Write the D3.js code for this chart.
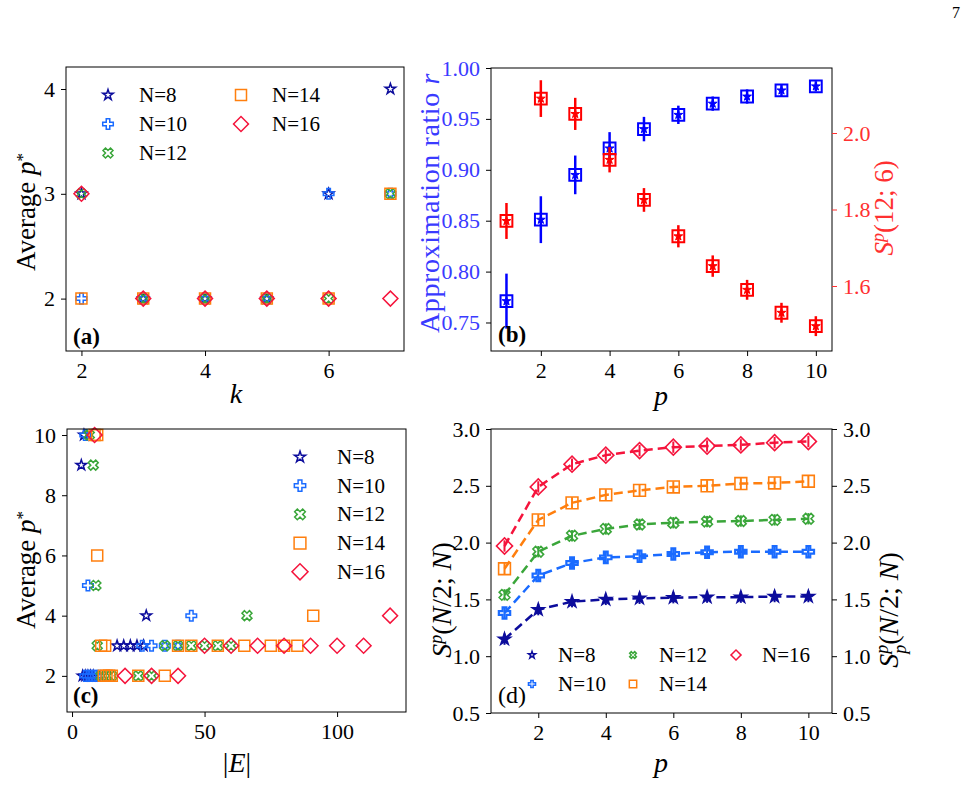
<!DOCTYPE html>
<html>
<head>
<meta charset="utf-8">
<script src="https://cdn.jsdelivr.net/npm/d3@7"></script>
<style>
body { margin: 0; background: #fff; }
</style>
</head>
<body>
<div id="chart"></div>
<script>
var serif = "'Liberation Serif', 'DejaVu Serif', serif";

// series shared by (a), (c), (d)
var nList = [8, 10, 12, 14, 16];
var nColors = ["#0c0c9c", "#1a6bff", "#3aa63a", "#ff7f0e", "#f5143c"];
var nShapes = ["star", "plus", "x", "square", "diamond"];

// (a) average p* against k
var kVals = [2, 3, 4, 5, 6, 7];
var aN8 = [3, 2, 2, 2, 3, 4];
var aN10 = [2, 2, 2, 2, 3, 3];
var aN12 = [3, 2, 2, 2, 2, 3];
var aN14 = [2, 2, 2, 2, 2, 3];
var aN16 = [3, 2, 2, 2, 2, 2];

// (b) approximation ratio and S^p(12;6) against p
var pVals = [1, 2, 3, 4, 5, 6, 7, 8, 9, 10];
var ratioR = [0.771, 0.851, 0.895, 0.921, 0.940, 0.954, 0.965, 0.972, 0.978, 0.982];
var ratioErr = [0.027, 0.023, 0.019, 0.016, 0.012, 0.009, 0.007, 0.007, 0.006, 0.005];
var entS = [1.77, 2.09, 2.05, 1.93, 1.825, 1.73, 1.652, 1.59, 1.53, 1.495];
var entErr = [0.047, 0.048, 0.042, 0.033, 0.031, 0.029, 0.028, 0.026, 0.026, 0.026];

// (c) average p* against |E|
var cE8 = [4.5, 3.5, 4, 5, 6, 7, 8, 17, 19.5, 22, 24.5, 27, 28];
var cP8 = [10, 9, 2, 2, 2, 2, 2, 3, 3, 3, 3, 3, 4];
var cE10 = [5, 6, 5, 6, 7, 8, 9, 10, 26.5, 30, 35, 40, 45];
var cP10 = [10, 5, 2, 2, 2, 2, 2, 2, 3, 3, 3, 3, 4];
var cE12 = [6.5, 8, 9, 9.5, 11, 13, 15, 25, 30, 35, 40, 45, 50, 55, 60, 66];
var cP12 = [10, 9, 5, 3, 2, 2, 2, 2, 2, 3, 3, 3, 3, 3, 3, 4];
var cE14 = [8.5, 9.5, 9.5, 11, 12.5, 12, 13, 14, 15, 25, 35, 40, 45, 55, 65, 75, 80, 85, 91];
var cP14 = [10, 10, 6, 3, 3, 2, 2, 2, 2, 2, 2, 3, 3, 3, 3, 3, 3, 3, 4];
var cE16 = [8.5, 20, 30, 40, 50, 60, 70, 80, 90, 100, 110, 120];
var cP16 = [10, 2, 2, 2, 3, 3, 3, 3, 3, 3, 3, 4];

// (d) S^p(N/2;N) against p
var dN8 = [1.15, 1.41, 1.48, 1.50, 1.51, 1.515, 1.52, 1.52, 1.525, 1.525];
var dN10 = [1.38, 1.71, 1.82, 1.87, 1.88, 1.90, 1.915, 1.92, 1.92, 1.92];
var dN12 = [1.54, 1.92, 2.06, 2.12, 2.16, 2.175, 2.185, 2.19, 2.20, 2.21];
var dN14 = [1.77, 2.20, 2.35, 2.42, 2.46, 2.49, 2.50, 2.52, 2.525, 2.54];
var dN16 = [1.97, 2.49, 2.69, 2.77, 2.81, 2.84, 2.85, 2.86, 2.88, 2.89];
var dErr = [0.05, 0.05, 0.05, 0.05, 0.05, 0.05, 0.05, 0.05, 0.05, 0.05];

var aSeries = [aN8, aN10, aN12, aN14, aN16];
var cSeriesE = [cE8, cE10, cE12, cE14, cE16];
var cSeriesP = [cP8, cP10, cP12, cP14, cP16];
var dSeries = [dN8, dN10, dN12, dN14, dN16];

var blueAxis = "#3a3aff";
var redAxis = "#ff3030";

var svg = d3.select("#chart").append("svg")
    .attr("width", 969)
    .attr("height", 810)
    .style("font-family", serif);

var baseArea = { star: 34, plus: 62, x: 62, square: 121, diamond: 112 };

function symbolPath(shape, area) {
    var type = d3.symbolSquare;
    if (shape == "star") type = d3.symbolStar;
    if (shape == "plus" || shape == "x") type = d3.symbolCross;
    return d3.symbol().type(type).size(area)();
}

function drawMarkers(xs, ys, xScale, yScale, shape, color, scale, fill, sw) {
    var rot = (shape == "x" || shape == "diamond") ? 45 : 0;
    var pts = xs.map(function (v, i) { return [v, ys[i]]; });
    svg.append("g").selectAll("path")
        .data(pts)
        .enter().append("path")
        .attr("d", symbolPath(shape, baseArea[shape] * scale))
        .attr("transform", function (d) {
            return "translate(" + xScale(d[0]) + "," + yScale(d[1]) + ") rotate(" + rot + ")";
        })
        .attr("fill", fill || "none")
        .attr("stroke", color)
        .attr("stroke-width", sw || 1.5);
}

function frame(box) {
    svg.append("rect")
        .attr("x", box.x0).attr("y", box.y0)
        .attr("width", box.x1 - box.x0).attr("height", box.y1 - box.y0)
        .attr("fill", "none").attr("stroke", "#000").attr("stroke-width", 1);
}

function addAxis(axis, tx, ty, tickColor, textColor) {
    var g = svg.append("g")
        .attr("transform", "translate(" + tx + "," + ty + ")")
        .call(axis.tickSize(5).tickSizeOuter(0).tickPadding(6));
    g.attr("font-family", null).attr("font-size", null);
    g.select(".domain").remove();
    g.selectAll("line").attr("stroke", tickColor || "#000");
    g.selectAll("text")
        .attr("fill", textColor || "#000")
        .style("font-family", serif)
        .style("font-size", "22px");
    return g;
}

// parts: {t, i (italic), dx, dy, fs, b}
function addLabel(x, y, rot, parts, size, color, anchor) {
    var t = svg.append("text")
        .attr("transform", "translate(" + x + "," + y + ") rotate(" + rot + ")")
        .attr("text-anchor", anchor || "middle")
        .style("font-family", serif)
        .style("font-size", size + "px")
        .attr("fill", color || "#000");
    parts.forEach(function (p) {
        if (typeof p == "string") p = { t: p };
        var s = t.append("tspan").text(p.t);
        if (p.i) s.style("font-style", "italic");
        if (p.b) s.style("font-weight", "bold");
        if (p.dx) s.attr("dx", p.dx);
        if (p.dy) s.attr("dy", p.dy);
        if (p.fs) s.style("font-size", p.fs + "px");
    });
    return t;
}

// ---------- (a) ----------
var boxA = { x0: 66, x1: 404, y0: 67, y1: 351 };
var xA = d3.scaleLinear().domain([1.75, 7.22]).range([boxA.x0, boxA.x1]);
var yA = d3.scaleLinear().domain([1.5, 4.21]).range([boxA.y1, boxA.y0]);

aSeries.forEach(function (ys, i) {
    drawMarkers(kVals, ys, xA, yA, nShapes[i], nColors[i], 1, "none", 1.5);
});
frame(boxA);
addAxis(d3.axisBottom(xA).tickValues([2, 4, 6]).tickFormat(d3.format("d")), 0, boxA.y1);
addAxis(d3.axisLeft(yA).tickValues([2, 3, 4]).tickFormat(d3.format("d")), boxA.x0, 0);

var legA = [[108, 95], [108, 124], [108, 153], [241, 95], [241, 124]];
nList.forEach(function (n, i) {
    var pos = legA[i];
    drawMarkers([0], [0], function () { return pos[0]; }, function () { return pos[1]; },
        nShapes[i], nColors[i], 1, "none", 1.5);
    addLabel(pos[0] + 31, pos[1] + 7, 0, ["N=" + n], 21, "#000", "start");
});
addLabel(73, 344, 0, [{ t: "(a)", b: true }], 23, "#000", "start");
addLabel(35, 212, -90, ["Average ", { t: "p", i: true }, { t: "*", dy: -7, fs: 17 }], 27);
addLabel(236, 403, 0, [{ t: "k", i: true }], 28);

// ---------- (b) ----------
var boxB = { x0: 491, x1: 832, y0: 68, y1: 351 };
var xB = d3.scaleLinear().domain([0.55, 10.47]).range([boxB.x0, boxB.x1]);
var yB = d3.scaleLinear().domain([0.722, 1.0]).range([boxB.y1, boxB.y0]);
var yB2 = d3.scaleLinear().domain([1.43, 2.17]).range([boxB.y1, boxB.y0]);

function drawErrSeries(vals, errs, yScale, color) {
    var g = svg.append("g");
    g.selectAll("line")
        .data(vals)
        .enter().append("line")
        .attr("x1", function (d, i) { return xB(pVals[i]); })
        .attr("x2", function (d, i) { return xB(pVals[i]); })
        .attr("y1", function (d, i) { return yScale(d - errs[i]); })
        .attr("y2", function (d, i) { return yScale(d + errs[i]); })
        .attr("stroke", color).attr("stroke-width", 2.5);
    drawMarkers(pVals, vals, xB, yScale, "square", color, 1.15, "none", 2);
    drawMarkers(pVals, vals, xB, yScale, "star", color, 0.7, color, 1);
}
drawErrSeries(ratioR, ratioErr, yB, "#0000ff");
drawErrSeries(entS, entErr, yB2, "#ff0000");
frame(boxB);
addAxis(d3.axisBottom(xB).tickValues([2, 4, 6, 8, 10]).tickFormat(d3.format("d")), 0, boxB.y1);
addAxis(d3.axisLeft(yB).tickValues([0.75, 0.80, 0.85, 0.90, 0.95, 1.00]).tickFormat(d3.format(".2f")),
    boxB.x0, 0, "#000", blueAxis);
addAxis(d3.axisRight(yB2).tickValues([1.6, 1.8, 2.0]).tickFormat(d3.format(".1f")),
    boxB.x1, 0, redAxis, redAxis);
addLabel(498, 342, 0, [{ t: "(b)", b: true }], 23, "#000", "start");
addLabel(439, 203, -90, ["Approximation ratio ", { t: "r", i: true }], 28, blueAxis)
    .style("letter-spacing", "0.6px");
addLabel(893, 208, -90, [{ t: "S", i: true }, { t: "p", i: true, dy: -9, fs: 18 }, { t: "(12; 6)", dy: 9 }], 27, redAxis);
addLabel(661, 405, 0, [{ t: "p", i: true }], 28);

// ---------- (c) ----------
var boxC = { x0: 67, x1: 406, y0: 429, y1: 712 };
var xC = d3.scaleLinear().domain([-1.9, 126]).range([boxC.x0, boxC.x1]);
var yC = d3.scaleLinear().domain([0.8, 10.2]).range([boxC.y1, boxC.y0]);

cSeriesE.forEach(function (xs, i) {
    drawMarkers(xs, cSeriesP[i], xC, yC, nShapes[i], nColors[i], 1, "none", 1.5);
});
frame(boxC);
addAxis(d3.axisBottom(xC).tickValues([0, 50, 100]).tickFormat(d3.format("d")), 0, boxC.y1);
addAxis(d3.axisLeft(yC).tickValues([2, 4, 6, 8, 10]).tickFormat(d3.format("d")), boxC.x0, 0);

nList.forEach(function (n, i) {
    var ly = 457 + i * 28.7;
    drawMarkers([0], [0], function () { return 300; }, function () { return ly; },
        nShapes[i], nColors[i], 1.15, "none", 1.5);
    addLabel(337, ly + 7, 0, ["N=" + n], 21, "#000", "start");
});
addLabel(73, 703, 0, [{ t: "(c)", b: true }], 23, "#000", "start");
addLabel(35, 570, -90, ["Average ", { t: "p", i: true }, { t: "*", dy: -7, fs: 17 }], 27);
addLabel(237, 772, 0, ["|", { t: "E", i: true }, "|"], 28);

// ---------- (d) ----------
var boxD = { x0: 491, x1: 832, y0: 429, y1: 713 };
var xD = d3.scaleLinear().domain([0.6, 10.7]).range([boxD.x0, boxD.x1]);
var yD = d3.scaleLinear().domain([0.5, 3.0]).range([boxD.y1, boxD.y0]);

var line = d3.line()
    .x(function (d, i) { return xD(pVals[i]); })
    .y(function (d) { return yD(d); });

dSeries.forEach(function (ys, i) {
    svg.append("path")
        .attr("d", line(ys))
        .attr("fill", "none")
        .attr("stroke", nColors[i])
        .attr("stroke-width", 2.5)
        .attr("stroke-dasharray", "9,5");
    svg.append("g").selectAll("line")
        .data(ys)
        .enter().append("line")
        .attr("x1", function (d, j) { return xD(pVals[j]); })
        .attr("x2", function (d, j) { return xD(pVals[j]); })
        .attr("y1", function (d, j) { return yD(d - dErr[j]); })
        .attr("y2", function (d, j) { return yD(d + dErr[j]); })
        .attr("stroke", nColors[i]).attr("stroke-width", 2);
    var fill = (i == 0) ? nColors[i] : "none";
    drawMarkers(pVals, ys, xD, yD, nShapes[i], nColors[i], i == 0 ? 1.3 : 1.15, fill, i == 1 ? 2.2 : 1.6);
});
frame(boxD);
addAxis(d3.axisBottom(xD).tickValues([2, 4, 6, 8, 10]).tickFormat(d3.format("d")), 0, boxD.y1);
var dTicks = [0.5, 1.0, 1.5, 2.0, 2.5, 3.0];
addAxis(d3.axisLeft(yD).tickValues(dTicks).tickFormat(d3.format(".1f")), boxD.x0, 0);
addAxis(d3.axisRight(yD).tickValues(dTicks).tickFormat(d3.format(".1f")), boxD.x1, 0);

var legD = [[532, 655], [532, 684], [633, 655], [633, 684], [736, 655]];
nList.forEach(function (n, i) {
    var pos = legD[i];
    drawMarkers([0], [0], function () { return pos[0]; }, function () { return pos[1]; },
        nShapes[i], nColors[i], 0.45, "none", 1.5);
    addLabel(pos[0] + 26, pos[1] + 7, 0, ["N=" + n], 21, "#000", "start");
});
addLabel(498, 703, 0, ["(d)"], 24, "#000", "start");
addLabel(451, 600, -90, [{ t: "S", i: true }, { t: "p", i: true, dy: -9, fs: 18 }, { t: "(", dy: 9 },
    { t: "N", i: true }, "/2; ", { t: "N", i: true }, ")"], 28);
addLabel(898, 610, -90, [{ t: "S", i: true }, { t: "p", i: true, dy: -10, fs: 18 },
    { t: "p", i: true, dx: -9, dy: 18, fs: 18 }, { t: "(", dy: -8 },
    { t: "N", i: true }, "/2; ", { t: "N", i: true }, ")"], 28);
addLabel(661, 772, 0, [{ t: "p", i: true }], 28);

// page number
addLabel(952, 18, 0, ["7"], 16, "#000", "start");
</script>
</body>
</html>
